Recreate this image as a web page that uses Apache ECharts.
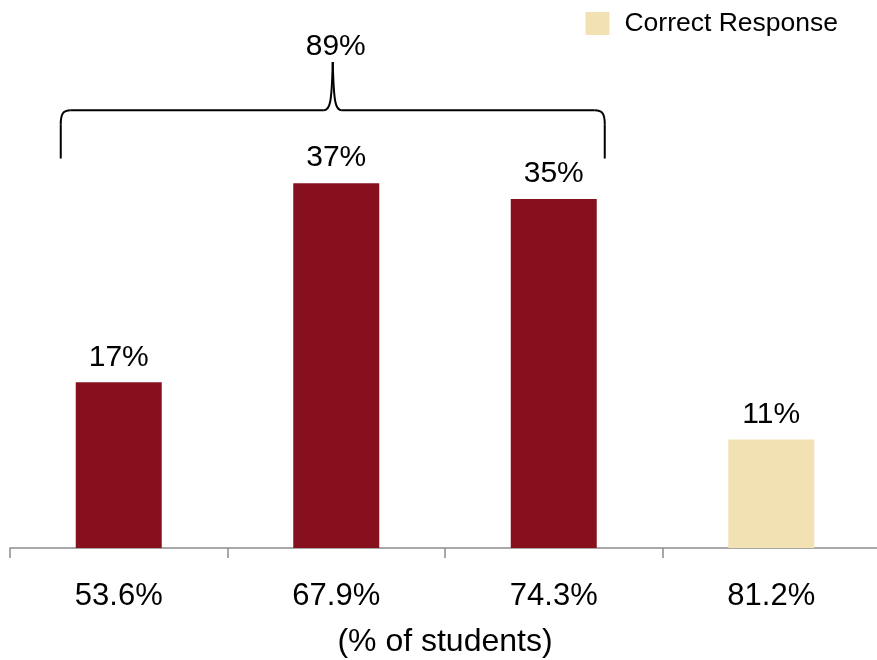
<!DOCTYPE html>
<html>
<head>
<meta charset="utf-8">
<script src="https://cdn.jsdelivr.net/npm/echarts@6/dist/echarts.min.js"></script>
<style>
html,body{margin:0;padding:0;background:#fff;}
#chart{width:877px;height:660px;}
</style>
</head>
<body>
<div id="chart"></div>
<script>
const categories = ['53.6%', '67.9%', '74.3%', '81.2%'];
const otherValues = [16.8, 37.0, 35.4, '-'];
const correctValues = ['-', '-', '-', 11.0];
const braceIndices = [0, 1, 2];
const axisName = '(% of students)';
const legendName = 'Correct Response';

const FONT = 'Liberation Sans, Arial, sans-serif';
const chart = echarts.init(document.getElementById('chart'), null, {renderer: 'canvas'});

const labelCfg = {
  show: true,
  position: 'top',
  distance: 10,
  color: '#000',
  fontSize: 30,
  fontFamily: FONT,
  formatter: p => Math.round(p.value) + '%'
};

chart.setOption({
  backgroundColor: '#fff',
  animation: false,
  grid: {left: 10, top: 55, width: 870, height: 493, outerBoundsMode: 'none', containLabel: false},
  legend: {
    data: [legendName],
    right: 39,
    top: 10,
    padding: 0,
    icon: 'rect',
    itemWidth: 24,
    itemHeight: 23,
    textStyle: {fontSize: 26.5, color: '#000', fontFamily: FONT, padding: [0, 0, 0, 10]}
  },
  xAxis: {
    type: 'category',
    data: categories,
    axisLine: {lineStyle: {color: '#8c8c8c', width: 1.5}},
    axisTick: {show: true, length: 10, lineStyle: {color: '#8c8c8c', width: 1.5}},
    axisLabel: {color: '#000', fontSize: 31, fontFamily: FONT, margin: 33},
    name: axisName,
    nameLocation: 'middle',
    nameGap: 78,
    nameTextStyle: {color: '#000', fontSize: 32, fontFamily: FONT}
  },
  yAxis: {type: 'value', min: 0, max: 50, show: false},
  series: [
    {
      name: 'Other',
      type: 'bar',
      data: otherValues,
      barWidth: 86,
      barGap: '-100%',
      itemStyle: {color: '#87101f'},
      label: labelCfg
    },
    {
      name: legendName,
      type: 'bar',
      data: correctValues,
      barWidth: 86,
      barGap: '-100%',
      itemStyle: {color: '#f2e2b3'},
      label: labelCfg
    }
  ]
});

// Brace annotation positioned via the chart's own scales
const first = braceIndices[0], last = braceIndices[braceIndices.length - 1];
const xL = chart.convertToPixel({xAxisIndex: 0}, first) - 58;
const xR = chart.convertToPixel({xAxisIndex: 0}, last) + 51;
const yEnd = chart.convertToPixel({yAxisIndex: 0}, 39.5);
const yBar = chart.convertToPixel({yAxisIndex: 0}, 44.4);
const yPeak = chart.convertToPixel({yAxisIndex: 0}, 49.3);
const yText = chart.convertToPixel({yAxisIndex: 0}, 50.8);
const xm = (xL + xR) / 2;
const total = braceIndices.reduce((s, i) => s + Math.round(otherValues[i]), 0);
const st = {stroke: '#000', lineWidth: 2, fill: 'none'};
const seg = (x1, y1, x2, y2) => ({type: 'line', shape: {x1, y1, x2, y2}, style: st});
const bez = (x1, y1, cpx1, cpy1, cpx2, cpy2, x2, y2) =>
  ({type: 'bezierCurve', shape: {x1, y1, cpx1, cpy1, cpx2, cpy2, x2, y2}, style: st});

chart.setOption({
  graphic: [
    seg(xL, yEnd, xL, yBar + 14),
    bez(xL, yBar + 14, xL, yBar + 4, xL + 2, yBar, xL + 10, yBar),
    seg(xL + 10, yBar, xm - 9, yBar),
    bez(xm - 9, yBar, xm - 3, yBar, xm - 1, yBar - 6, xm, yPeak),
    bez(xm, yPeak, xm + 1, yBar - 6, xm + 3, yBar, xm + 9, yBar),
    seg(xm + 9, yBar, xR - 10, yBar),
    bez(xR - 10, yBar, xR - 2, yBar, xR, yBar + 4, xR, yBar + 14),
    seg(xR, yBar + 14, xR, yEnd),
    {
      type: 'text',
      x: xm + 3,
      y: yText,
      style: {text: total + '%', fill: '#000', fontSize: 30, fontFamily: FONT, align: 'center', verticalAlign: 'middle'}
    }
  ]
});
</script>
</body>
</html>
